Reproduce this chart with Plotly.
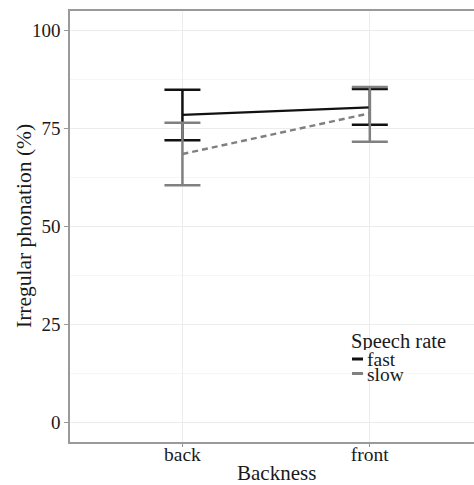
import plotly.graph_objects as go

# Irregular phonation by vowel backness and speech rate (mean with error bars)
categories = ["back", "front"]
cat_pos = [1, 2]

fast_mean = [78.5, 80.4]
fast_upper = [84.9, 85.1]
fast_lower = [72.0, 76.0]

slow_mean = [68.5, 78.9]
slow_upper = [76.5, 85.6]
slow_lower = [60.5, 71.6]

y_ticks = [0, 25, 50, 75, 100]

FAST_COLOR = "#111111"
SLOW_COLOR = "#808080"
TEXT_COLOR = "#1a1a1a"
FONT = "Liberation Serif"

# plot-area geometry in pixels (used to place titles and the legend block)
W, H = 474, 485
M_L, M_R, M_T, M_B = 70, 0, 11, 43
PW, PH = W - M_L - M_R, H - M_T - M_B


def px_x(px):
    return (px - M_L) / PW


def px_y(py):
    return (H - M_B - py) / PH


def err_plus(mean, upper):
    return [u - m for m, u in zip(mean, upper)]


def err_minus(mean, lower):
    return [m - l for m, l in zip(mean, lower)]


fig = go.Figure()

fig.add_trace(go.Scatter(
    x=cat_pos, y=fast_mean, mode="lines", name="fast",
    line=dict(color=FAST_COLOR, width=2.3),
    error_y=dict(type="data", symmetric=False,
                 array=err_plus(fast_mean, fast_upper),
                 arrayminus=err_minus(fast_mean, fast_lower),
                 color=FAST_COLOR, thickness=2.5, width=18),
    showlegend=False,
))

fig.add_trace(go.Scatter(
    x=cat_pos, y=slow_mean, mode="lines", name="slow",
    line=dict(color=SLOW_COLOR, width=2.5, dash="6px,4px"),
    error_y=dict(type="data", symmetric=False,
                 array=err_plus(slow_mean, slow_upper),
                 arrayminus=err_minus(slow_mean, slow_lower),
                 color=SLOW_COLOR, thickness=2.5, width=18),
    showlegend=False,
))

fig.update_layout(
    width=W, height=H,
    margin=dict(l=M_L, r=M_R, t=M_T, b=M_B),
    paper_bgcolor="white", plot_bgcolor="white",
    font=dict(family=FONT, color=TEXT_COLOR, size=19),
    xaxis=dict(
        range=[0.4, 2.556],
        tickmode="array", tickvals=cat_pos, ticktext=categories,
        showgrid=True, gridcolor="#ececec", gridwidth=1,
        showline=True, linecolor="#9a9a9a", linewidth=1.5, mirror=True,
        ticks="outside", ticklen=3, tickcolor="#9a9a9a",
        ticklabelstandoff=-9,
        tickfont=dict(family=FONT, size=19.5, color=TEXT_COLOR),
        zeroline=False,
    ),
    yaxis=dict(
        range=[-5, 105],
        tickmode="array", tickvals=y_ticks,
        showgrid=True, gridcolor="#ececec", gridwidth=1,
        minor=dict(dtick=12.5, tick0=12.5, showgrid=True,
                   gridcolor="#f6f6f6", gridwidth=1),
        showline=True, linecolor="#9a9a9a", linewidth=1.5, mirror=False,
        ticks="outside", ticklen=4, tickcolor="#9a9a9a",
        tickfont=dict(family=FONT, size=19, color=TEXT_COLOR),
        zeroline=False,
    ),
)

# axis titles
fig.add_annotation(
    x=1.5, y=0, xref="x", yref="paper", yanchor="middle",
    yshift=-31, text="Backness", showarrow=False,
    font=dict(family=FONT, size=21, color=TEXT_COLOR),
)
fig.add_annotation(
    x=px_x(24), y=px_y(226), xref="paper", yref="paper",
    xanchor="center", yanchor="middle", textangle=-90,
    text="Irregular phonation (%)", showarrow=False,
    font=dict(family=FONT, size=21.5, color=TEXT_COLOR),
)

# Legend block: title, key lines and labels
fig.add_annotation(
    x=px_x(349), y=px_y(341), xref="paper", yref="paper", text="Speech rate",
    showarrow=False, xanchor="left", yanchor="middle", height=17,
    font=dict(family=FONT, size=20.5, color=TEXT_COLOR),
)
legend_items = [("fast", FAST_COLOR, 359), ("slow", SLOW_COLOR, 373.5)]
for label, color, py in legend_items:
    fig.add_shape(
        type="line", xref="paper", yref="paper",
        x0=px_x(352), x1=px_x(363), y0=px_y(py), y1=px_y(py),
        line=dict(color=color, width=3),
    )
    fig.add_annotation(
        x=px_x(365), y=px_y(py), xref="paper", yref="paper", text=label,
        showarrow=False, xanchor="left", yanchor="middle", height=14,
        font=dict(family=FONT, size=19.5, color=TEXT_COLOR),
    )

fig.write_html("out.html")
